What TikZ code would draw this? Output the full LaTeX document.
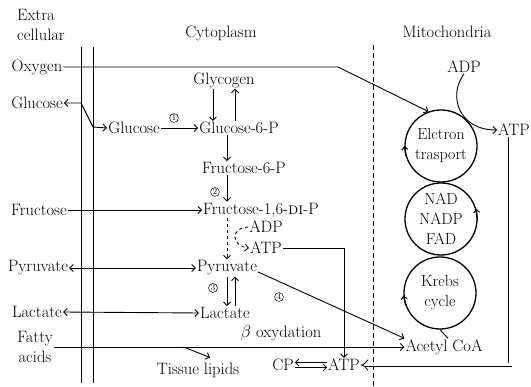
\documentclass[tikz,border=0pt]{standalone}
\usepackage{tikz}
\usetikzlibrary{arrows.meta,positioning,calc}

\begin{document}
\begin{tikzpicture}[
    x=1pt, y=-1pt,
    >={Straight Barb[length=3.5pt,width=7pt]},
    txt/.style={inner sep=1pt, font=\fontsize{16.5}{20}\selectfont},
    organelle/.style={draw, circle, line width=1.3pt, minimum size=72pt, inner sep=0pt, align=center, font=\fontsize{16}{20}\selectfont},
    num/.style={draw, circle, line width=0.5pt, inner sep=0.6pt, font=\fontsize{8.5}{8.5}\selectfont},
    flow/.style={->, line width=0.9pt},
    membrane/.style={line width=1pt}
]
    \useasboundingbox (0,0) rectangle (531,387);

    % Compartment headings
    \node[txt, align=left] (xcell) at (41,25) {Extra\\cellular};
    \node[txt] (cyto) at (221,33) {Cytoplasm};
    \node[txt] (mito) at (447,32) {Mitochondria};

    % Cell membrane and mitochondrial boundary
    \draw[membrane] (81,47) -- (81,383);
    \draw[membrane] (93,47) -- (93,383);
    \draw[line width=0.8pt, dash pattern=on 5pt off 3pt] (373,45) -- (373,387);

    % Extracellular substrates
    \node[txt] (oxy) at (37,67) {Oxygen};
    \node[txt] (gluE) at (37,103) {Glucose};
    \node[txt] (fruE) at (39,210) {Fructose};
    \node[txt] (pyrE) at (38,268) {Pyruvate};
    \node[txt] (lacE) at (37,312) {Lactate};
    \node[txt, align=center] (fat) at (35,347) {Fatty\\acids};

    % Cytoplasmic pathway
    \node[txt] (glyc) at (224,80) {Glycogen};
    \node[txt] (glcC) at (134,128) {Glucose};
    \node[txt] (g6p) at (239,128) {Glucose-6-P};
    \node[txt] (f6p) at (244,168) {Fructose-6-P};
    \node[txt] (f16) at (261,210) {Fructose-1,6-\textsc{di}-P};
    \node[txt] (adp1) at (266,227) {ADP};
    \node[txt] (atp1) at (266,248) {ATP};
    \node[txt] (pyrC) at (227,268) {Pyruvate};
    \node[txt] (lacC) at (225,313) {Lactate};
    \node[txt] (boxy) at (281,333) {$\beta$ oxydation};
    \node[txt] (tisl) at (198,370) {Tissue lipids};
    \node[txt] (cp) at (283,365) {CP};
    \node[txt] (atp3) at (344,365) {ATP};

    % Step numbers
    \node[num] (n1) at (174,118) {1};
    \node[num] (n2) at (215,192) {2};
    \node[num] (n3) at (213,288) {3};
    \node[num] (n4) at (279,297) {4};

    % Mitochondrial cycles
    \node[txt] (adp2) at (464,67) {ADP};
    \node[txt] (atp2) at (514,130) {ATP};
    \node[organelle] (et) at (441,146) {Elctron\\trasport};
    \node[organelle] (nad) at (441,219) {NAD\\NADP\\FAD};
    \node[organelle] (kc) at (440,293) {Krebs\\cycle};
    \node[txt] (acoa) at (444,347) {Acetyl CoA};

    % Oxygen to electron transport
    \coordinate (obend) at (338,67);
    \draw[flow] (oxy.east) -- (obend) -- (et.110);

    % Glucose transport
    \draw[<->, line width=0.9pt] (gluE.east) -- (81,103) -- (93,127) -- (glcC.west);
    \draw[flow] (glcC.east) -- (g6p.west);
    \draw[flow] (fruE.east) -- (f16.west);
    \foreach \a/\b in {pyrE/pyrC, lacE/lacC} {
        \draw[<->, line width=0.9pt] (\a.east) -- (\b.west);
    }

    % Glycolysis steps
    \draw[flow] ([xshift=-11pt]glyc.south) -- ([xshift=-11pt]glyc.south |- g6p.north);
    \draw[flow] ([xshift=11pt]glyc.south |- g6p.north) -- ([xshift=11pt]glyc.south);
    \draw[flow] ([xshift=-12pt]g6p.south) -- ([xshift=-12pt]g6p.south |- f6p.north);
    \draw[flow] ([xshift=-17pt]f6p.south) -- ([xshift=-17pt]f6p.south |- f16.north);
    \draw[flow, dashed] (pyrC.north |- f16.south) -- (pyrC.north);
    \draw[flow, dashed] (adp1.west) .. controls (230,228) and (231,246) .. (atp1.west);
    \draw[flow] (pyrC.south) -- (pyrC.south |- lacC.north);
    \draw[flow] ([xshift=8pt]pyrC.south |- lacC.north) -- ([xshift=8pt]pyrC.south);

    % Energy and acetyl CoA routes
    \draw[flow] (atp1.east) -- (atp1.east -| atp3.north) -- (atp3.north);
    \draw[flow] ([yshift=-4pt]pyrC.east) -- (acoa.north west);
    \draw[flow] (fat.east) -- (acoa.west);
    \path (fat.east) -- (acoa.west) coordinate[pos=0.37] (tlb);
    \draw[flow] (tlb) -- ([xshift=12pt,yshift=4pt]tisl.north);
    \draw[->, line width=0.8pt] ([yshift=2.5pt]atp3.west) -- ([yshift=2.5pt]cp.east);
    \draw[->, line width=0.8pt] ([yshift=-2.5pt]cp.east) -- ([yshift=-2.5pt]atp3.west);

    % ATP export from mitochondria
    \draw[flow] (adp2.south) .. controls (448,95) and (458,130) .. (atp2.west);
    \coordinate (atp2s) at ([xshift=-4pt]atp2.south);
    \draw[double, double distance=3pt, line width=0.8pt, -{Implies}] (atp2s) -- (atp2s |- atp3.east) -- (atp3.east);
    \draw[line width=1pt] ([xshift=4pt]acoa.north) .. controls (444,333) .. (kc.south);

    % Cycle directions
    \draw[line width=1pt, -{Straight Barb[length=3pt,width=6pt]}] (et.196) -- (et.180);
    \draw[line width=1pt, -{Straight Barb[length=3pt,width=6pt]}] (nad.358) -- (nad.16);
    \draw[line width=1pt, -{Straight Barb[length=3pt,width=6pt]}] (kc.200) -- (kc.184);

\end{tikzpicture}
\end{document}
